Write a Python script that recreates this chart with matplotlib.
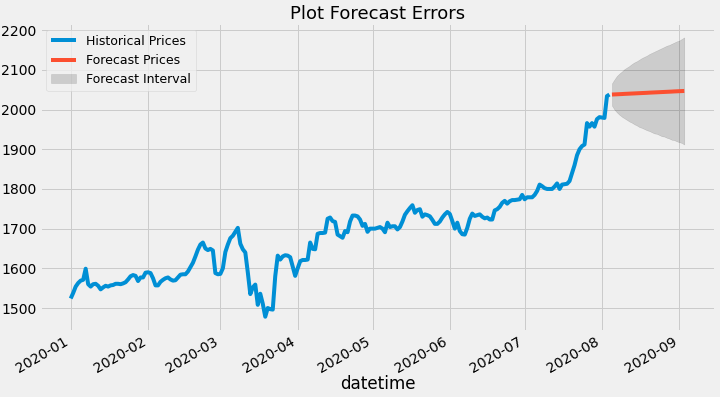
import matplotlib
matplotlib.use("Agg")
import matplotlib.pyplot as plt
import pandas as pd

# Historical daily prices, 2020-01-01 .. 2020-08-04
jan = [1524, 1538, 1554, 1563, 1569, 1571, 1599, 1560, 1554, 1560,
       1561, 1556, 1547, 1552, 1556, 1554, 1557, 1558, 1561, 1561,
       1560, 1562, 1565, 1572, 1580, 1583, 1581, 1568, 1577, 1577, 1589]
feb = [1590, 1588, 1575, 1557, 1557, 1566, 1571, 1575, 1577, 1572,
       1569, 1570, 1577, 1584, 1585, 1585, 1592, 1603, 1614, 1630,
       1647, 1660, 1665, 1650, 1646, 1649, 1645, 1588, 1585]
mar = [1586, 1600, 1641, 1660, 1676, 1682, 1692, 1702, 1662, 1648,
       1640, 1590, 1535, 1552, 1559, 1508, 1536, 1511, 1478, 1500,
       1497, 1496, 1580, 1632, 1622, 1630, 1633, 1632, 1628, 1605, 1581]
apr = [1600, 1618, 1621, 1621, 1622, 1665, 1649, 1648, 1687, 1689,
       1689, 1690, 1725, 1728, 1719, 1717, 1685, 1681, 1677, 1694,
       1691, 1718, 1733, 1733, 1731, 1723, 1707, 1712, 1692, 1700]
may = [1700, 1700, 1702, 1704, 1700, 1691, 1715, 1704, 1706, 1706,
       1698, 1704, 1718, 1735, 1744, 1752, 1759, 1740, 1747, 1749,
       1730, 1736, 1734, 1731, 1722, 1712, 1712, 1718, 1728, 1736, 1742]
jun = [1737, 1719, 1700, 1715, 1694, 1686, 1685, 1702, 1725, 1738,
       1732, 1734, 1736, 1730, 1726, 1728, 1723, 1723, 1746, 1749,
       1755, 1765, 1770, 1763, 1769, 1772, 1772, 1773, 1774, 1785]
jul = [1774, 1779, 1779, 1779, 1785, 1795, 1811, 1807, 1802, 1800,
       1800, 1800, 1806, 1814, 1800, 1811, 1812, 1813, 1820, 1840,
       1860, 1885, 1900, 1908, 1912, 1966, 1957, 1966, 1957, 1976, 1981]
aug = [1980, 1979, 2034, 2038]

historical = jan + feb + mar + apr + may + jun + jul + aug
hist_start = "2020-01-01"

# Forecast (2020-08-05 .. 2020-09-03)
forecast_start = "2020-08-05"
forecast = [2038.0, 2038.3, 2038.6, 2038.9, 2039.2, 2039.6, 2039.9, 2040.2,
            2040.5, 2040.8, 2041.1, 2041.4, 2041.7, 2042.0, 2042.3, 2042.7,
            2043.0, 2043.3, 2043.6, 2043.9, 2044.2, 2044.5, 2044.8, 2045.1,
            2045.4, 2045.8, 2046.1, 2046.4, 2046.7, 2047.0]
upper = [2066, 2076, 2085, 2091, 2096, 2102, 2106, 2110, 2115, 2119,
         2122, 2126, 2130, 2133, 2136, 2140, 2143, 2146, 2149, 2152,
         2155, 2158, 2161, 2163, 2166, 2169, 2172, 2174, 2178, 2182]
lower = [2010, 2000, 1993, 1987, 1982, 1978, 1974, 1970, 1967, 1963,
         1960, 1956, 1954, 1951, 1948, 1946, 1943, 1940, 1939, 1936,
         1933, 1932, 1929, 1927, 1924, 1923, 1920, 1918, 1916, 1912]

plt.style.use("fivethirtyeight")

hist = pd.Series(historical,
                 index=pd.date_range(hist_start, periods=len(historical), freq="D"))
hist.index.name = "datetime"
fidx = pd.date_range(forecast_start, periods=len(forecast), freq="D")

fig = plt.figure(figsize=(10, 5.514), dpi=72)
ax = fig.add_subplot(111)
ax.plot(hist.index, hist.values, label="Historical Prices")
ax.plot(fidx, forecast, label="Forecast Prices")
ax.fill_between(fidx, lower, upper, color="k", alpha=0.15,
                label="Forecast Interval")
ax.set_title("Plot Forecast Errors", fontsize=18, pad=3)
ax.set_xlabel("datetime", labelpad=0)
ax.legend(loc="upper left", fontsize=12.5)
fig.autofmt_xdate()
fig.subplots_adjust(left=0.0556, right=0.993, bottom=0.167, top=0.941)
fig.savefig("out.png", dpi=72)
